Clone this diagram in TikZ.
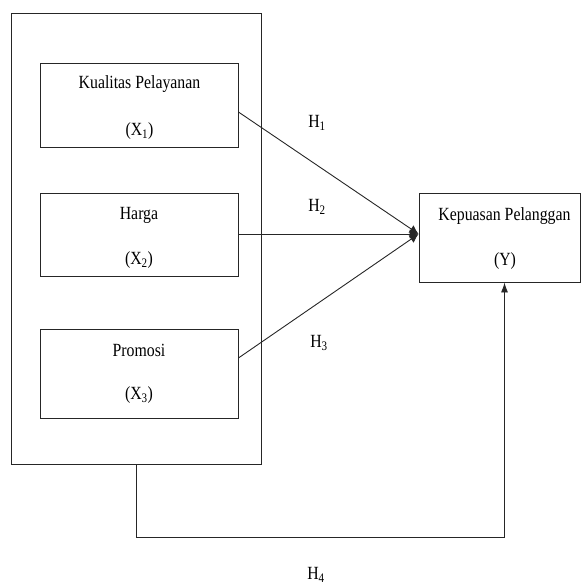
\documentclass[tikz,border=0pt]{standalone}
\usepackage{fontspec}
\setmainfont{Liberation Serif}[FakeStretch=0.85]
\usetikzlibrary{arrows.meta}
\begin{document}
\begin{tikzpicture}[x=1pt,y=-1pt,
  box/.style={draw=black!85, line width=0.9pt, inner sep=0pt, fill=none},
  lbl/.style={font=\fontsize{18.6}{22}\selectfont, inner sep=0pt},
  conn/.style={line width=0.9pt, draw=black!85},
  bigtip/.style={-{Latex[length=9pt,width=9pt]}},
  smalltip/.style={-{Latex[length=10pt,width=7pt]}}]
\useasboundingbox (0,0) rectangle (581,585);
\node[box, minimum width=250pt, minimum height=451pt] (outer) at (136,238.5) {};
\node[box, minimum width=198pt, minimum height=84pt] (b1) at (139,105) {};
\node[box, minimum width=198pt, minimum height=83pt] (b2) at (139,234.5) {};
\node[box, minimum width=198pt, minimum height=89pt] (b3) at (139,373.5) {};
\node[box, minimum width=161pt, minimum height=89pt] (y) at (499.5,237.5) {};
\node[lbl] (t1a) at (139.5,84) {Kualitas Pelayanan};
\node[lbl] (t1b) at (139.5,131) {(X\textsubscript{1})};
\node[lbl] (t2a) at (139,215) {Harga};
\node[lbl] (t2b) at (139,260) {(X\textsubscript{2})};
\node[lbl] (t3a) at (139,350) {Promosi};
\node[lbl] (t3b) at (139,395) {(X\textsubscript{3})};
\node[lbl] (tya) at (504.5,216) {Kepuasan Pelanggan};
\node[lbl] (tyb) at (505,261) {(Y)};
\node[lbl] (h1) at (317,123) {H\textsubscript{1}};
\node[lbl] (h2) at (317,207) {H\textsubscript{2}};
\node[lbl] (h3) at (319,343) {H\textsubscript{3}};
\node[lbl] (h4) at (316,575) {H\textsubscript{4}};
\coordinate (tip) at ([yshift=3.5pt]y.west);
\draw[conn,bigtip] ([yshift=-7pt]b1.east) -- (tip);
\draw[conn,bigtip] ([yshift=0.5pt]b2.east) -- (tip);
\draw[conn,bigtip] ([yshift=15.5pt]b3.east) -- (tip);
\coordinate (c1) at (outer.south |- 0,537);
\coordinate (yb) at ([xshift=5pt]y.south);
\draw[conn,smalltip] (outer.south) -- (c1) -- (c1 -| yb) -- (yb);
\end{tikzpicture}
\end{document}
